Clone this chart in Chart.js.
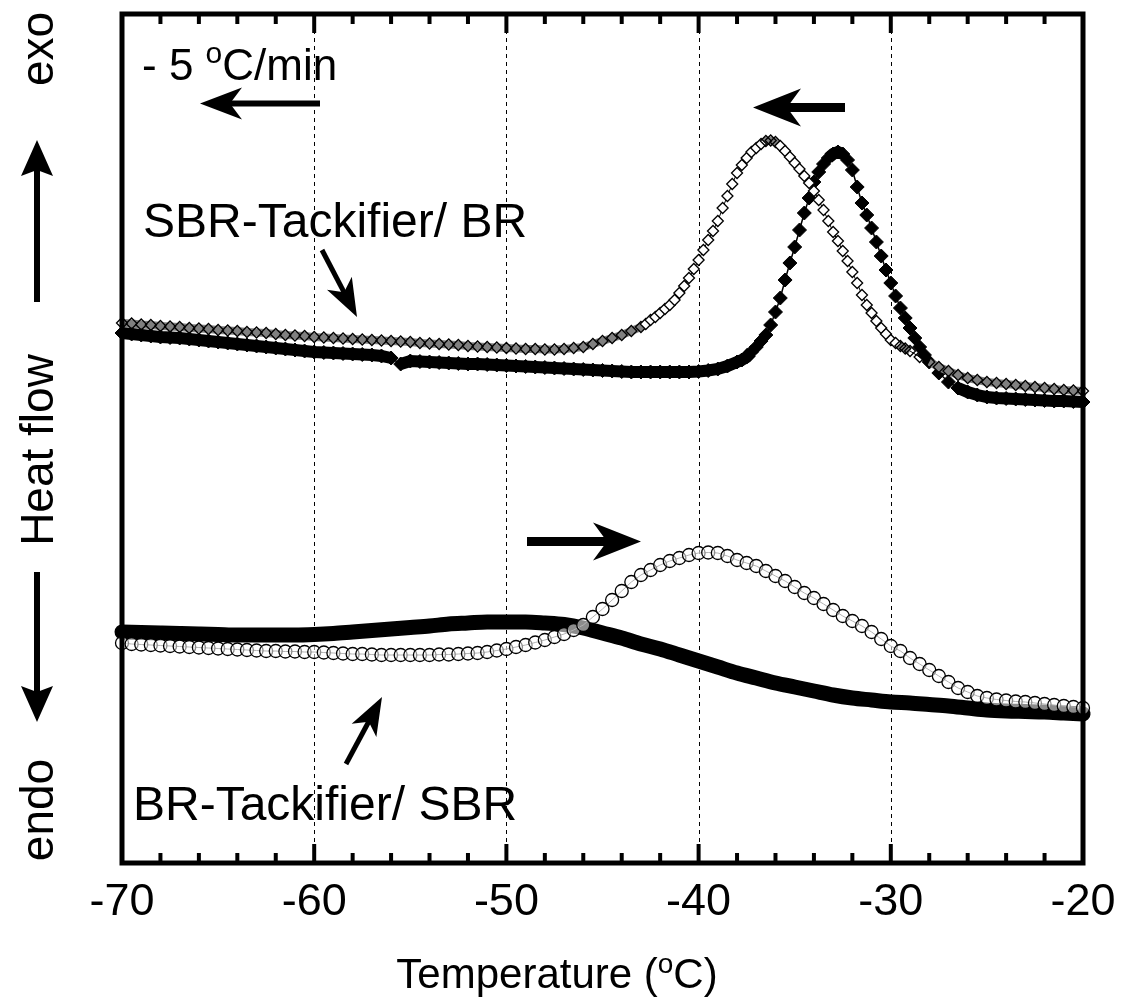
<!DOCTYPE html>
<html><head><meta charset="utf-8">
<script src="https://cdn.jsdelivr.net/npm/chart.js@4.4.1/dist/chart.umd.min.js"></script>
<style>html,body{margin:0;padding:0;background:#fff;} canvas{display:block;}</style>
</head><body>
<canvas id="c" width="1121" height="1004"></canvas>
<script>
// ---------- DATA (heat flow in arbitrary units, exo up) ----------
// SBR-Tackifier/BR, open diamonds
const temperatureSbrOpen = [
 -70,-69.5,-69,-68.5,-68,-67.5,-67,-66.5,-66,-65.5,-65,-64.5,-64,-63.5,-63,-62.5,-62,-61.5,-61,-60.5,
 -60,-59.5,-59,-58.5,-58,-57.5,-57,-56.5,-56,-55.5,-55,-54.5,-54,-53.5,-53,-52.5,-52,-51.5,-51,-50.5,
 -50,-49.5,-49,-48.5,-48,-47.5,-47,-46.5,-46,-45.5,-45,-44.5,-44,-43.5,-43,
 -42.75,-42.5,-42.25,-42,-41.75,-41.5,-41.25,-41,-40.75,-40.5,-40.25,-40,
 -39.75,-39.5,-39.25,-39,-38.75,-38.5,-38.25,-38,-37.75,-37.5,-37.25,-37,
 -36.75,-36.5,-36.25,-36,-35.75,-35.5,-35.25,-35,-34.75,-34.5,-34.25,-34,
 -33.75,-33.5,-33.25,-33,-32.75,-32.5,-32.25,-32,-31.75,-31.5,-31.25,-31,
 -30.75,-30.5,-30.25,-30,-29.75,-29.5,-29.25,-29,
 -28.5,-28,-27.5,-27,-26.5,-26,-25.5,-25,-24.5,-24,-23.5,-23,-22.5,-22,-21.5,-21,-20.5,-20
];
const heatSbrOpen = [
 540,539.5,538.5,538,537,536.5,536,535,534.5,534,533,532.5,532,531,530.5,530,529,528,527.5,527,
 526,525.5,525,524.5,524,523.5,523,522.5,522,521.5,521,520,519.5,519,518.5,518,517,516.5,516,515.5,
 515,514.5,514,514,513.5,513.5,514,515,516,519,522,525,528,532,536,
 539,543,546,550,554,558,563,570,577,585,594,603,
 613,623,632,642,655,667,679,690,698,705,711,715,
 719,722,722.5,721,717,712,706,700,694,687,680,672,
 663,653,642,631,622,612,602,591,580,568,558,550,
 542,535,529,523,520,517,514.5,512,
 506,501,496,492,488,485,483,481,480,479,478,477,476,475,474,473,472.5,472
];
// SBR-Tackifier/BR, filled diamonds
const temperatureSbrFilled = [
 -70,-69.5,-69,-68.5,-68,-67.5,-67,-66.5,-66,-65.5,-65,-64.5,-64,-63.5,-63,-62.5,-62,-61.5,-61,-60.5,
 -60,-59.5,-59,-58.5,-58,-57.5,-57,-56.5,-56,-55.5,-55,-54.5,-54,-53.5,-53,-52.5,-52,-51.5,-51,-50.5,
 -50,-49.5,-49,-48.5,-48,-47.5,-47,-46.5,-46,-45.5,-45,-44.5,-44,-43.5,-43,-42.5,-42,-41.5,-41,-40.5,
 -40,-39.5,-39,-38.5,-38,
 -37.75,-37.5,-37.25,-37,-36.75,-36.5,-36.25,-36,-35.75,-35.5,-35.25,-35,-34.75,-34.5,-34.25,-34,
 -33.75,-33.5,-33.25,-33,-32.75,-32.5,-32.25,-32,-31.75,-31.5,-31.25,-31,-30.75,-30.5,-30.25,-30,
 -29.75,-29.5,-29.25,-29,-28.75,-28.5,-28.25,-28,
 -27.5,-27,-26.5,-26,-25.5,-25,-24.5,-24,-23.5,-23,-22.5,-22,-21.5,-21,-20.5,-20
];
const heatSbrFilled = [
 530,529,528,527,526,525.5,525,524,523,522,521,520,519,518,517,516,515,514,513,512,
 511,510.5,510,509.5,509,508.5,508,507,505,499,502,501.5,501,500.5,500,499.5,499,499,498.5,498,
 497.5,497,496.5,496,495.5,495,494.5,494,493.5,493,492.5,492,491.5,491,491,491,491,491,491,491,
 491.5,492.5,494,497,501,
 503,506,511,516,522,528,538,551,565,583,600,616,633,650,665,681,
 691,699,705,709,711,709,703,693,676,660,648,635,621,607,593,580,
 567,555,545,535,525,516,508,501,
 490,481,475,471,468,466,465,464.5,464,463.5,463,462.5,462,462,461.5,461
];
// BR-Tackifier/SBR, open circles
const temperatureBrOpen = [
 -70,-69.5,-69,-68.5,-68,-67.5,-67,-66.5,-66,-65.5,-65,-64.5,-64,-63.5,-63,-62.5,-62,-61.5,-61,-60.5,
 -60,-59.5,-59,-58.5,-58,-57.5,-57,-56.5,-56,-55.5,-55,-54.5,-54,-53.5,-53,-52.5,-52,-51.5,-51,-50.5,
 -50,-49.5,-49,-48.5,-48,-47.5,-47,-46.5,-46,-45.5,-45,-44.5,-44,-43.5,-43,-42.5,-42,-41.5,-41,-40.5,
 -40,-39.5,-39,-38.5,-38,-37.5,-37,-36.5,-36,-35.5,-35,-34.5,-34,-33.5,-33,-32.5,-32,-31.5,-31,-30.5,
 -30,-29.5,-29,-28.5,-28,-27.5,-27,-26.5,-26,-25.5,-25,-24.5,-24,-23.5,-23,-22.5,-22,-21.5,-21,-20.5,-20
];
const heatBrOpen = [
 220,219,218.5,218,217.5,217,216.5,216,215.5,215,214.5,214,213.5,213,212.5,212,212,211.5,211.5,211,
 211,210.5,210,209.5,209,209,208.5,208,208,208,208,208,208,208.5,208.5,209,209.5,210,211,212.5,
 214,216,218,220.5,223,226,229,233,238,246,254,263,272,281,288,293,298,302,305,308,
 310,310.5,310,307,303,300,297,292,287,282,276,270,265,259,253,247,242,237,231,224,
 217,212,205,199,193,187,181,175,171,167,165,163.5,162.5,161.5,161,160,159,158,157,156,155
];
// BR-Tackifier/SBR, filled (thick trace)
const temperatureBrFilled = [
 -70,-69,-68,-67,-66,-65,-64,-63,-62,-61,-60,-59,-58,-57,-56,-55,-54,-53,-52,-51,
 -50,-49,-48,-47,-46,-45,-44,-43,-42,-41,-40,-39,-38,-37,-36,-35,-34,-33,-32,-31,
 -30,-29,-28,-27,-26,-25,-24,-23,-22,-21,-20
];
const heatBrFilled = [
 231,230.5,230,229.5,229,228.5,228,228,228,228,228.5,229.5,231,232.5,234,235.5,237,239,240,241,
 241,241,240,238.5,235,230,225,219,214,208,202,196,190,185,180,176,172,168,165,163,
 161,160,158.5,157,155,153,152,151.5,151,150,149
];
const xMajorTicks = [-70,-60,-50,-40,-30,-20];
const gridTemps = [-60,-50,-40,-30];

// ---------- helpers ----------
const FONT = '"Liberation Sans", Arial, Helvetica, sans-serif';
function pts(xs, ys){ return xs.map((x,i)=>({x:x, y:ys[i]})); }
function isFlatSeg(c){ return Math.abs(c.p1.y - c.p0.y) < 5; }
function localSlope(c){
  const d = c.dataset.data, i = c.dataIndex;
  const a = d[Math.max(0,i-1)], b = d[Math.min(d.length-1,i+1)];
  if (!a || !b || b.x === a.x) return 0;
  return Math.abs((b.y - a.y)/(b.x - a.x));
}

function arrow(ctx, x1, y1, x2, y2, w, headLen, headHalf, notch){
  const dx = x2-x1, dy = y2-y1, L = Math.hypot(dx,dy);
  const ux = dx/L, uy = dy/L, nx = -uy, ny = ux;
  const bx = x2 - ux*headLen, by = y2 - uy*headLen;
  const kx = x2 - ux*(headLen-notch), ky = y2 - uy*(headLen-notch);
  ctx.save();
  ctx.strokeStyle = '#000'; ctx.fillStyle = '#000';
  ctx.lineWidth = w; ctx.lineCap = 'butt';
  ctx.beginPath(); ctx.moveTo(x1,y1); ctx.lineTo(kx+ux*1, ky+uy*1); ctx.stroke();
  ctx.beginPath();
  ctx.moveTo(x2,y2);
  ctx.lineTo(bx+nx*headHalf, by+ny*headHalf);
  ctx.lineTo(kx,ky);
  ctx.lineTo(bx-nx*headHalf, by-ny*headHalf);
  ctx.closePath(); ctx.fill();
  ctx.restore();
}

function textRun(ctx, pieces, x, y, align){
  ctx.save();
  ctx.fillStyle = '#000'; ctx.textBaseline = 'alphabetic'; ctx.textAlign = 'left';
  let total = 0;
  pieces.forEach(p=>{ ctx.font = p.size + 'px ' + FONT; total += ctx.measureText(p.t).width; });
  let cx = align === 'center' ? x - total/2 : x;
  pieces.forEach(p=>{
    ctx.font = p.size + 'px ' + FONT;
    ctx.fillText(p.t, cx, y + (p.dy||0));
    cx += ctx.measureText(p.t).width;
  });
  ctx.restore();
}

const decor = {
  id: 'decor',
  beforeDatasetsDraw(chart){
    const ctx = chart.ctx, a = chart.chartArea, xs = chart.scales.x;
    ctx.save();
    ctx.strokeStyle = '#000'; ctx.lineWidth = 1; ctx.setLineDash([4,4]);
    gridTemps.forEach(t=>{
      const px = Math.round(xs.getPixelForValue(t)) + 0.5;
      ctx.beginPath(); ctx.moveTo(px, a.top); ctx.lineTo(px, a.bottom); ctx.stroke();
    });
    ctx.restore();
  },
  afterDatasetsDraw(chart){
    const ctx = chart.ctx, a = chart.chartArea, xs = chart.scales.x;
    ctx.save();
    ctx.strokeStyle = '#000'; ctx.lineWidth = 4; ctx.lineCap = 'butt';
    for (let t = -68; t <= -22; t += 2){
      const px = xs.getPixelForValue(t);
      const len = (t % 10 === 0) ? 19 : 10;
      ctx.beginPath(); ctx.moveTo(px, a.top); ctx.lineTo(px, a.top + len); ctx.stroke();
      ctx.beginPath(); ctx.moveTo(px, a.bottom); ctx.lineTo(px, a.bottom - len); ctx.stroke();
    }
    ctx.lineWidth = 5;
    ctx.strokeRect(a.left, a.top, a.right - a.left, a.bottom - a.top);
    ctx.restore();
  },
  afterDraw(chart){
    const ctx = chart.ctx;
    textRun(ctx, [{t:'Temperature (', size:42},{t:'o', size:28, dy:-15},{t:'C)', size:42}], 557, 988, 'center');
    textRun(ctx, [{t:'- 5 ', size:44},{t:'o', size:30, dy:-17},{t:'C/min', size:44}], 142, 80, 'left');
    textRun(ctx, [{t:'SBR-Tackifier/ BR', size:48}], 143, 237, 'left');
    textRun(ctx, [{t:'BR-Tackifier/ SBR', size:48}], 133, 820, 'left');
    arrow(ctx, 320, 103.5, 200, 103.5, 6, 42, 16, 12);
    arrow(ctx, 845, 107.5, 753, 107.5, 9, 48, 19, 14);
    arrow(ctx, 527, 541.5, 641, 541.5, 9, 48, 19, 14);
    arrow(ctx, 322, 250, 357, 317, 5, 38, 14, 10);
    arrow(ctx, 346, 764, 382, 697, 5, 38, 14, 10);
    ctx.save();
    ctx.fillStyle = '#000'; ctx.font = '46px ' + FONT;
    ctx.textAlign = 'center'; ctx.textBaseline = 'middle';
    [['exo', 49], ['Heat flow', 450], ['endo', 810]].forEach(([s, y])=>{
      ctx.save(); ctx.translate(40, y); ctx.rotate(-Math.PI/2); ctx.fillText(s, 0, 0); ctx.restore();
    });
    ctx.restore();
    arrow(ctx, 37, 302, 37, 140, 6, 36, 16, 6);
    arrow(ctx, 37, 572, 37, 722, 6, 36, 16, 6);
  }
};

new Chart(document.getElementById('c'), {
  type: 'line',
  data: {
    datasets: [
      { label: 'SBR-Tackifier/BR open', data: pts(temperatureSbrOpen, heatSbrOpen),
        tension: 0, clip: false,
        segment: { borderWidth: c => isFlatSeg(c) ? 8 : 1, borderColor: c => isFlatSeg(c) ? '#808080' : '#000' },
        pointStyle: 'rectRot', pointRadius: 5.5,
        pointBackgroundColor: c => localSlope(c) < 12 ? 'rgba(255,255,255,0)' : '#fff',
        pointBorderColor: '#000', pointBorderWidth: 1.3 },
      { label: 'BR-Tackifier/SBR open', data: pts(temperatureBrOpen, heatBrOpen),
        tension: 0, clip: false, borderColor: '#555', borderWidth: 1,
        pointStyle: 'circle', pointRadius: 6.5,
        pointBackgroundColor: 'rgba(255,255,255,0.55)', pointBorderColor: '#000', pointBorderWidth: 1.3 },
      { label: 'SBR-Tackifier/BR filled', data: pts(temperatureSbrFilled, heatSbrFilled),
        tension: 0, clip: false,
        segment: { borderWidth: c => isFlatSeg(c) ? 12 : 1.5 },
        borderColor: '#000', pointStyle: 'rectRot', pointRadius: 7,
        pointBackgroundColor: '#000', pointBorderColor: '#000', pointBorderWidth: 1 },
      { label: 'BR-Tackifier/SBR filled', data: pts(temperatureBrFilled, heatBrFilled),
        borderColor: '#000', borderWidth: 15, pointRadius: 0, borderCapStyle: 'round',
        cubicInterpolationMode: 'monotone', clip: false }
    ]
  },
  options: {
    responsive: false, animation: false, devicePixelRatio: 1,
    layout: { padding: { left: 122, right: 38, top: 14, bottom: 0 } },
    plugins: { legend: { display: false }, tooltip: { enabled: false } },
    scales: {
      x: {
        type: 'linear', min: -70, max: -20,
        grid: { display: false, drawTicks: false }, border: { display: false },
        afterBuildTicks: (s) => { s.ticks = xMajorTicks.map(v => ({ value: v })); },
        afterFit: (s) => { s.height = 141; s.paddingLeft = 0; s.paddingRight = 0; },
        ticks: { color: '#000', padding: 13, font: { size: 45, family: FONT }, maxRotation: 0,
                 callback: (v) => String(v) }
      },
      y: { display: false, min: 0, max: 849 }
    }
  },
  plugins: [decor]
});
</script>
</body></html>
